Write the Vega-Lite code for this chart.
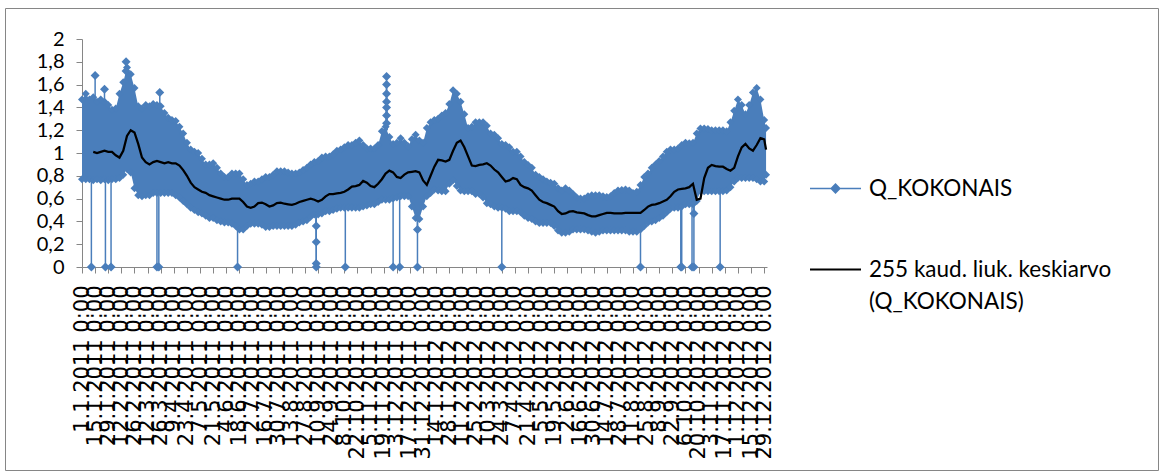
{
  "$schema": "https://vega.github.io/schema/vega-lite/v6.json",
  "width": 1153,
  "height": 462,
  "autosize": {"type": "none"},
  "padding": {"left": 5, "top": 8, "right": 5, "bottom": 2},
  "background": "white",
  "config": {
    "view": {"stroke": "#868686", "strokeWidth": 1},
    "font": "Lato",
    "style": {"guide-label": {"lineHeight": 32}}
  },
  "datasets": {
    "grid": [{"v": 0.2}, {"v": 0.4}, {"v": 0.6}, {"v": 0.8}, {"v": 1.0}, {"v": 1.2}, {"v": 1.4}, {"v": 1.6}, {"v": 1.8}, {"v": 2.0}],
    "band": [
      {"t": "2011/01/01", "hi": 1.47, "lo": 0.77},
      {"t": "2011/01/05", "hi": 1.52, "lo": 0.77},
      {"t": "2011/01/09", "hi": 1.47, "lo": 0.77},
      {"t": "2011/01/13", "hi": 1.49, "lo": 0.76, "ma": 1.01},
      {"t": "2011/01/17", "hi": 1.45, "lo": 0.77, "ma": 1.0},
      {"t": "2011/01/21", "hi": 1.47, "lo": 0.76, "ma": 1.01},
      {"t": "2011/01/25", "hi": 1.45, "lo": 0.77, "ma": 1.02},
      {"t": "2011/01/29", "hi": 1.42, "lo": 0.76, "ma": 1.01},
      {"t": "2011/02/02", "hi": 1.38, "lo": 0.77, "ma": 1.01},
      {"t": "2011/02/06", "hi": 1.39, "lo": 0.77, "ma": 0.98},
      {"t": "2011/02/10", "hi": 1.52, "lo": 0.78, "ma": 0.96},
      {"t": "2011/02/14", "hi": 1.62, "lo": 0.81, "ma": 1.02},
      {"t": "2011/02/18", "hi": 1.75, "lo": 0.86, "ma": 1.15},
      {"t": "2011/02/22", "hi": 1.69, "lo": 0.83, "ma": 1.2},
      {"t": "2011/02/26", "hi": 1.57, "lo": 0.69, "ma": 1.18},
      {"t": "2011/03/02", "hi": 1.41, "lo": 0.63, "ma": 1.08},
      {"t": "2011/03/06", "hi": 1.39, "lo": 0.62, "ma": 0.96},
      {"t": "2011/03/10", "hi": 1.42, "lo": 0.63, "ma": 0.92},
      {"t": "2011/03/14", "hi": 1.41, "lo": 0.63, "ma": 0.9},
      {"t": "2011/03/18", "hi": 1.43, "lo": 0.65, "ma": 0.92},
      {"t": "2011/03/22", "hi": 1.42, "lo": 0.65, "ma": 0.93},
      {"t": "2011/03/26", "hi": 1.41, "lo": 0.65, "ma": 0.92},
      {"t": "2011/03/30", "hi": 1.35, "lo": 0.65, "ma": 0.91},
      {"t": "2011/04/03", "hi": 1.31, "lo": 0.65, "ma": 0.92},
      {"t": "2011/04/07", "hi": 1.29, "lo": 0.65, "ma": 0.91},
      {"t": "2011/04/11", "hi": 1.28, "lo": 0.63, "ma": 0.91},
      {"t": "2011/04/15", "hi": 1.23, "lo": 0.61, "ma": 0.89},
      {"t": "2011/04/19", "hi": 1.17, "lo": 0.58, "ma": 0.85},
      {"t": "2011/04/23", "hi": 1.09, "lo": 0.55, "ma": 0.8},
      {"t": "2011/04/27", "hi": 1.03, "lo": 0.52, "ma": 0.74},
      {"t": "2011/05/01", "hi": 1.01, "lo": 0.5, "ma": 0.7},
      {"t": "2011/05/05", "hi": 1.0, "lo": 0.48, "ma": 0.68},
      {"t": "2011/05/09", "hi": 0.95, "lo": 0.47, "ma": 0.66},
      {"t": "2011/05/13", "hi": 0.9, "lo": 0.45, "ma": 0.65},
      {"t": "2011/05/17", "hi": 0.9, "lo": 0.43, "ma": 0.63},
      {"t": "2011/05/21", "hi": 0.91, "lo": 0.43, "ma": 0.62},
      {"t": "2011/05/25", "hi": 0.87, "lo": 0.41, "ma": 0.61},
      {"t": "2011/05/29", "hi": 0.82, "lo": 0.4, "ma": 0.6},
      {"t": "2011/06/02", "hi": 0.79, "lo": 0.39, "ma": 0.59},
      {"t": "2011/06/06", "hi": 0.79, "lo": 0.39, "ma": 0.59},
      {"t": "2011/06/10", "hi": 0.82, "lo": 0.38, "ma": 0.6},
      {"t": "2011/06/14", "hi": 0.82, "lo": 0.36, "ma": 0.6},
      {"t": "2011/06/18", "hi": 0.82, "lo": 0.33, "ma": 0.6},
      {"t": "2011/06/22", "hi": 0.77, "lo": 0.33, "ma": 0.57},
      {"t": "2011/06/26", "hi": 0.72, "lo": 0.36, "ma": 0.53},
      {"t": "2011/06/30", "hi": 0.73, "lo": 0.38, "ma": 0.52},
      {"t": "2011/07/04", "hi": 0.75, "lo": 0.38, "ma": 0.53},
      {"t": "2011/07/08", "hi": 0.75, "lo": 0.38, "ma": 0.56},
      {"t": "2011/07/12", "hi": 0.77, "lo": 0.37, "ma": 0.565},
      {"t": "2011/07/16", "hi": 0.79, "lo": 0.35, "ma": 0.55},
      {"t": "2011/07/20", "hi": 0.79, "lo": 0.35, "ma": 0.53},
      {"t": "2011/07/24", "hi": 0.81, "lo": 0.36, "ma": 0.54},
      {"t": "2011/07/28", "hi": 0.84, "lo": 0.36, "ma": 0.56},
      {"t": "2011/08/01", "hi": 0.84, "lo": 0.36, "ma": 0.565},
      {"t": "2011/08/05", "hi": 0.84, "lo": 0.36, "ma": 0.555},
      {"t": "2011/08/09", "hi": 0.83, "lo": 0.36, "ma": 0.55},
      {"t": "2011/08/13", "hi": 0.82, "lo": 0.36, "ma": 0.545},
      {"t": "2011/08/17", "hi": 0.82, "lo": 0.37, "ma": 0.555},
      {"t": "2011/08/21", "hi": 0.83, "lo": 0.39, "ma": 0.57},
      {"t": "2011/08/25", "hi": 0.85, "lo": 0.4, "ma": 0.58},
      {"t": "2011/08/29", "hi": 0.87, "lo": 0.41, "ma": 0.59},
      {"t": "2011/09/02", "hi": 0.9, "lo": 0.44, "ma": 0.6},
      {"t": "2011/09/06", "hi": 0.92, "lo": 0.46, "ma": 0.59},
      {"t": "2011/09/10", "hi": 0.93, "lo": 0.46, "ma": 0.575},
      {"t": "2011/09/14", "hi": 0.96, "lo": 0.47, "ma": 0.59},
      {"t": "2011/09/18", "hi": 0.97, "lo": 0.49, "ma": 0.62},
      {"t": "2011/09/22", "hi": 0.97, "lo": 0.49, "ma": 0.64},
      {"t": "2011/09/26", "hi": 0.99, "lo": 0.5, "ma": 0.64},
      {"t": "2011/09/30", "hi": 1.02, "lo": 0.51, "ma": 0.645},
      {"t": "2011/10/04", "hi": 1.03, "lo": 0.52, "ma": 0.65},
      {"t": "2011/10/08", "hi": 1.05, "lo": 0.52, "ma": 0.66},
      {"t": "2011/10/12", "hi": 1.07, "lo": 0.52, "ma": 0.68},
      {"t": "2011/10/16", "hi": 1.07, "lo": 0.52, "ma": 0.705},
      {"t": "2011/10/20", "hi": 1.09, "lo": 0.52, "ma": 0.71},
      {"t": "2011/10/24", "hi": 1.11, "lo": 0.52, "ma": 0.72},
      {"t": "2011/10/28", "hi": 1.07, "lo": 0.53, "ma": 0.755},
      {"t": "2011/11/01", "hi": 1.04, "lo": 0.54, "ma": 0.74},
      {"t": "2011/11/05", "hi": 1.04, "lo": 0.55, "ma": 0.71},
      {"t": "2011/11/09", "hi": 1.04, "lo": 0.55, "ma": 0.7},
      {"t": "2011/11/13", "hi": 1.07, "lo": 0.57, "ma": 0.73},
      {"t": "2011/11/17", "hi": 1.19, "lo": 0.59, "ma": 0.77},
      {"t": "2011/11/21", "hi": 1.23, "lo": 0.59, "ma": 0.82},
      {"t": "2011/11/25", "hi": 1.14, "lo": 0.59, "ma": 0.845},
      {"t": "2011/11/29", "hi": 1.08, "lo": 0.6, "ma": 0.83},
      {"t": "2011/12/03", "hi": 1.09, "lo": 0.61, "ma": 0.79},
      {"t": "2011/12/07", "hi": 1.13, "lo": 0.62, "ma": 0.78},
      {"t": "2011/12/11", "hi": 1.09, "lo": 0.62, "ma": 0.81},
      {"t": "2011/12/15", "hi": 1.06, "lo": 0.62, "ma": 0.83},
      {"t": "2011/12/19", "hi": 1.12, "lo": 0.53, "ma": 0.835},
      {"t": "2011/12/23", "hi": 1.16, "lo": 0.43, "ma": 0.84},
      {"t": "2011/12/27", "hi": 1.11, "lo": 0.42, "ma": 0.83},
      {"t": "2011/12/31", "hi": 1.09, "lo": 0.53, "ma": 0.76},
      {"t": "2012/01/04", "hi": 1.22, "lo": 0.62, "ma": 0.72},
      {"t": "2012/01/08", "hi": 1.27, "lo": 0.65, "ma": 0.8},
      {"t": "2012/01/12", "hi": 1.29, "lo": 0.68, "ma": 0.88},
      {"t": "2012/01/16", "hi": 1.3, "lo": 0.67, "ma": 0.94},
      {"t": "2012/01/20", "hi": 1.33, "lo": 0.665, "ma": 0.935},
      {"t": "2012/01/24", "hi": 1.35, "lo": 0.665, "ma": 0.925},
      {"t": "2012/01/28", "hi": 1.43, "lo": 0.73, "ma": 0.94},
      {"t": "2012/02/01", "hi": 1.55, "lo": 0.76, "ma": 1.02},
      {"t": "2012/02/05", "hi": 1.52, "lo": 0.71, "ma": 1.09},
      {"t": "2012/02/09", "hi": 1.45, "lo": 0.67, "ma": 1.11},
      {"t": "2012/02/13", "hi": 1.34, "lo": 0.665, "ma": 1.05},
      {"t": "2012/02/17", "hi": 1.22, "lo": 0.665, "ma": 0.97},
      {"t": "2012/02/21", "hi": 1.23, "lo": 0.665, "ma": 0.89},
      {"t": "2012/02/25", "hi": 1.27, "lo": 0.64, "ma": 0.885},
      {"t": "2012/02/29", "hi": 1.27, "lo": 0.64, "ma": 0.895},
      {"t": "2012/03/04", "hi": 1.27, "lo": 0.61, "ma": 0.9},
      {"t": "2012/03/08", "hi": 1.24, "lo": 0.56, "ma": 0.91},
      {"t": "2012/03/12", "hi": 1.17, "lo": 0.55, "ma": 0.89},
      {"t": "2012/03/16", "hi": 1.16, "lo": 0.53, "ma": 0.855},
      {"t": "2012/03/20", "hi": 1.13, "lo": 0.52, "ma": 0.83},
      {"t": "2012/03/24", "hi": 1.08, "lo": 0.52, "ma": 0.79},
      {"t": "2012/03/28", "hi": 1.07, "lo": 0.51, "ma": 0.75},
      {"t": "2012/04/01", "hi": 1.05, "lo": 0.49, "ma": 0.76},
      {"t": "2012/04/05", "hi": 1.01, "lo": 0.49, "ma": 0.78},
      {"t": "2012/04/09", "hi": 1.01, "lo": 0.49, "ma": 0.77},
      {"t": "2012/04/13", "hi": 0.97, "lo": 0.48, "ma": 0.72},
      {"t": "2012/04/17", "hi": 0.92, "lo": 0.45, "ma": 0.7},
      {"t": "2012/04/21", "hi": 0.895, "lo": 0.43, "ma": 0.69},
      {"t": "2012/04/25", "hi": 0.87, "lo": 0.42, "ma": 0.67},
      {"t": "2012/04/29", "hi": 0.81, "lo": 0.4, "ma": 0.63},
      {"t": "2012/05/03", "hi": 0.79, "lo": 0.385, "ma": 0.59},
      {"t": "2012/05/07", "hi": 0.77, "lo": 0.385, "ma": 0.57},
      {"t": "2012/05/11", "hi": 0.75, "lo": 0.385, "ma": 0.56},
      {"t": "2012/05/15", "hi": 0.74, "lo": 0.385, "ma": 0.545},
      {"t": "2012/05/19", "hi": 0.73, "lo": 0.36, "ma": 0.53},
      {"t": "2012/05/23", "hi": 0.69, "lo": 0.32, "ma": 0.49},
      {"t": "2012/05/27", "hi": 0.67, "lo": 0.3, "ma": 0.465},
      {"t": "2012/05/31", "hi": 0.69, "lo": 0.3, "ma": 0.47},
      {"t": "2012/06/04", "hi": 0.67, "lo": 0.31, "ma": 0.485},
      {"t": "2012/06/08", "hi": 0.64, "lo": 0.33, "ma": 0.49},
      {"t": "2012/06/12", "hi": 0.61, "lo": 0.33, "ma": 0.48},
      {"t": "2012/06/16", "hi": 0.6, "lo": 0.33, "ma": 0.475},
      {"t": "2012/06/20", "hi": 0.6, "lo": 0.33, "ma": 0.47},
      {"t": "2012/06/24", "hi": 0.62, "lo": 0.32, "ma": 0.455},
      {"t": "2012/06/28", "hi": 0.63, "lo": 0.31, "ma": 0.445},
      {"t": "2012/07/02", "hi": 0.63, "lo": 0.3, "ma": 0.445},
      {"t": "2012/07/06", "hi": 0.63, "lo": 0.31, "ma": 0.455},
      {"t": "2012/07/10", "hi": 0.62, "lo": 0.32, "ma": 0.465},
      {"t": "2012/07/14", "hi": 0.615, "lo": 0.32, "ma": 0.475},
      {"t": "2012/07/18", "hi": 0.62, "lo": 0.32, "ma": 0.475},
      {"t": "2012/07/22", "hi": 0.65, "lo": 0.32, "ma": 0.47},
      {"t": "2012/07/26", "hi": 0.67, "lo": 0.32, "ma": 0.47},
      {"t": "2012/07/30", "hi": 0.675, "lo": 0.32, "ma": 0.47},
      {"t": "2012/08/03", "hi": 0.68, "lo": 0.32, "ma": 0.475},
      {"t": "2012/08/07", "hi": 0.67, "lo": 0.31, "ma": 0.475},
      {"t": "2012/08/11", "hi": 0.65, "lo": 0.31, "ma": 0.475},
      {"t": "2012/08/15", "hi": 0.66, "lo": 0.31, "ma": 0.475},
      {"t": "2012/08/19", "hi": 0.72, "lo": 0.33, "ma": 0.475},
      {"t": "2012/08/23", "hi": 0.79, "lo": 0.36, "ma": 0.5},
      {"t": "2012/08/27", "hi": 0.82, "lo": 0.39, "ma": 0.53},
      {"t": "2012/08/31", "hi": 0.87, "lo": 0.4, "ma": 0.545},
      {"t": "2012/09/04", "hi": 0.9, "lo": 0.41, "ma": 0.55},
      {"t": "2012/09/08", "hi": 0.93, "lo": 0.43, "ma": 0.56},
      {"t": "2012/09/12", "hi": 0.97, "lo": 0.45, "ma": 0.575},
      {"t": "2012/09/16", "hi": 1.01, "lo": 0.48, "ma": 0.59},
      {"t": "2012/09/20", "hi": 1.03, "lo": 0.51, "ma": 0.62},
      {"t": "2012/09/24", "hi": 1.03, "lo": 0.52, "ma": 0.66},
      {"t": "2012/09/28", "hi": 1.04, "lo": 0.52, "ma": 0.68},
      {"t": "2012/10/02", "hi": 1.07, "lo": 0.53, "ma": 0.685},
      {"t": "2012/10/06", "hi": 1.09, "lo": 0.55, "ma": 0.69},
      {"t": "2012/10/10", "hi": 1.085, "lo": 0.55, "ma": 0.7},
      {"t": "2012/10/14", "hi": 1.09, "lo": 0.55, "ma": 0.73},
      {"t": "2012/10/18", "hi": 1.17, "lo": 0.58, "ma": 0.59},
      {"t": "2012/10/22", "hi": 1.215, "lo": 0.665, "ma": 0.6},
      {"t": "2012/10/26", "hi": 1.215, "lo": 0.665, "ma": 0.78},
      {"t": "2012/10/30", "hi": 1.21, "lo": 0.665, "ma": 0.87},
      {"t": "2012/11/03", "hi": 1.2, "lo": 0.665, "ma": 0.895},
      {"t": "2012/11/07", "hi": 1.2, "lo": 0.665, "ma": 0.885},
      {"t": "2012/11/11", "hi": 1.2, "lo": 0.665, "ma": 0.88},
      {"t": "2012/11/15", "hi": 1.2, "lo": 0.665, "ma": 0.88},
      {"t": "2012/11/19", "hi": 1.19, "lo": 0.67, "ma": 0.86},
      {"t": "2012/11/23", "hi": 1.27, "lo": 0.7, "ma": 0.845},
      {"t": "2012/11/27", "hi": 1.37, "lo": 0.75, "ma": 0.87},
      {"t": "2012/12/01", "hi": 1.47, "lo": 0.78, "ma": 0.97},
      {"t": "2012/12/05", "hi": 1.42, "lo": 0.78, "ma": 1.05},
      {"t": "2012/12/09", "hi": 1.34, "lo": 0.78, "ma": 1.08},
      {"t": "2012/12/13", "hi": 1.42, "lo": 0.78, "ma": 1.04},
      {"t": "2012/12/17", "hi": 1.53, "lo": 0.78, "ma": 1.02},
      {"t": "2012/12/21", "hi": 1.57, "lo": 0.77, "ma": 1.07},
      {"t": "2012/12/25", "hi": 1.47, "lo": 0.75, "ma": 1.13},
      {"t": "2012/12/29", "hi": 1.29, "lo": 0.75, "ma": 1.12},
      {"t": "2012/12/31", "hi": 1.22, "lo": 0.81, "ma": 1.03}
    ],
    "extra": [
      {"t": "2011/01/11", "base": 0.78, "q": 0},
      {"t": "2011/01/15", "base": 1.45, "q": 1.68},
      {"t": "2011/01/25", "base": 1.45, "q": 1.56},
      {"t": "2011/01/26", "base": 0.78, "q": 0},
      {"t": "2011/02/01", "base": 0.78, "q": 0},
      {"t": "2011/02/17", "base": 1.7, "q": 1.8},
      {"t": "2011/02/17", "base": 1.7, "q": 1.72},
      {"t": "2011/03/22", "base": 0.65, "q": 0},
      {"t": "2011/03/24", "base": 0.65, "q": 0},
      {"t": "2011/03/25", "base": 1.41, "q": 1.53},
      {"t": "2011/06/16", "base": 0.35, "q": 0},
      {"t": "2011/09/08", "base": 0.46, "q": 0},
      {"t": "2011/09/08", "base": 0.46, "q": 0.03},
      {"t": "2011/09/08", "base": 0.46, "q": 0.22},
      {"t": "2011/09/08", "base": 0.46, "q": 0.36},
      {"t": "2011/10/09", "base": 0.52, "q": 0},
      {"t": "2011/11/22", "base": 1.2, "q": 1.26},
      {"t": "2011/11/22", "base": 1.2, "q": 1.33},
      {"t": "2011/11/22", "base": 1.2, "q": 1.4},
      {"t": "2011/11/22", "base": 1.2, "q": 1.45},
      {"t": "2011/11/22", "base": 1.2, "q": 1.52},
      {"t": "2011/11/22", "base": 1.2, "q": 1.6},
      {"t": "2011/11/22", "base": 1.2, "q": 1.67},
      {"t": "2011/11/29", "base": 0.6, "q": 0},
      {"t": "2011/12/06", "base": 0.62, "q": 0},
      {"t": "2011/12/25", "base": 0.43, "q": 0},
      {"t": "2011/12/25", "base": 0.43, "q": 0.33},
      {"t": "2012/03/24", "base": 0.52, "q": 0},
      {"t": "2012/08/19", "base": 0.32, "q": 0},
      {"t": "2012/10/01", "base": 0.55, "q": 0},
      {"t": "2012/10/02", "base": 0.55, "q": 0},
      {"t": "2012/10/13", "base": 0.55, "q": 0},
      {"t": "2012/10/15", "base": 0.55, "q": 0},
      {"t": "2012/10/15", "base": 0.55, "q": 0.47},
      {"t": "2012/11/12", "base": 0.665, "q": 0}
    ]
  },
  "encoding": {
    "x": {
      "field": "t",
      "type": "temporal",
      "title": null,
      "scale": {
        "domain": [{"year": 2011, "month": 1, "date": 1}, {"year": 2013, "month": 1, "date": 1}],
        "range": [77, 762],
        "nice": false
      },
      "axis": {
        "values": [
          {"year": 2011, "month": 1, "date": 1}, {"year": 2011, "month": 1, "date": 15}, {"year": 2011, "month": 1, "date": 29},
          {"year": 2011, "month": 2, "date": 12}, {"year": 2011, "month": 2, "date": 26}, {"year": 2011, "month": 3, "date": 12},
          {"year": 2011, "month": 3, "date": 26}, {"year": 2011, "month": 4, "date": 9}, {"year": 2011, "month": 4, "date": 23},
          {"year": 2011, "month": 5, "date": 7}, {"year": 2011, "month": 5, "date": 21}, {"year": 2011, "month": 6, "date": 4},
          {"year": 2011, "month": 6, "date": 18}, {"year": 2011, "month": 7, "date": 2}, {"year": 2011, "month": 7, "date": 16},
          {"year": 2011, "month": 7, "date": 30}, {"year": 2011, "month": 8, "date": 13}, {"year": 2011, "month": 8, "date": 27},
          {"year": 2011, "month": 9, "date": 10}, {"year": 2011, "month": 9, "date": 24}, {"year": 2011, "month": 10, "date": 8},
          {"year": 2011, "month": 10, "date": 22}, {"year": 2011, "month": 11, "date": 5}, {"year": 2011, "month": 11, "date": 19},
          {"year": 2011, "month": 12, "date": 3}, {"year": 2011, "month": 12, "date": 17}, {"year": 2011, "month": 12, "date": 31},
          {"year": 2012, "month": 1, "date": 14}, {"year": 2012, "month": 1, "date": 28}, {"year": 2012, "month": 2, "date": 11},
          {"year": 2012, "month": 2, "date": 25}, {"year": 2012, "month": 3, "date": 10}, {"year": 2012, "month": 3, "date": 24},
          {"year": 2012, "month": 4, "date": 7}, {"year": 2012, "month": 4, "date": 21}, {"year": 2012, "month": 5, "date": 5},
          {"year": 2012, "month": 5, "date": 19}, {"year": 2012, "month": 6, "date": 2}, {"year": 2012, "month": 6, "date": 16},
          {"year": 2012, "month": 6, "date": 30}, {"year": 2012, "month": 7, "date": 14}, {"year": 2012, "month": 7, "date": 28},
          {"year": 2012, "month": 8, "date": 11}, {"year": 2012, "month": 8, "date": 25}, {"year": 2012, "month": 9, "date": 8},
          {"year": 2012, "month": 9, "date": 22}, {"year": 2012, "month": 10, "date": 6}, {"year": 2012, "month": 10, "date": 20},
          {"year": 2012, "month": 11, "date": 3}, {"year": 2012, "month": 11, "date": 17}, {"year": 2012, "month": 12, "date": 1},
          {"year": 2012, "month": 12, "date": 15}, {"year": 2012, "month": 12, "date": 29}
        ],
        "format": "%-d.%-m.%Y %-H:%M",
        "labelAngle": 270,
        "labelOverlap": false,
        "labelFlush": false,
        "labelBound": false,
        "labelLimit": 0,
        "offset": -203,
        "grid": false,
        "domainColor": "#868686",
        "tickColor": "#868686",
        "tickSize": 6,
        "labelPadding": 12,
        "labelFont": "DejaVu Sans",
        "labelFontSize": 21,
        "labelColor": "black"
      }
    }
  },
  "layer": [
    {
      "data": {"name": "grid"},
      "mark": {"type": "rule", "color": "#868686", "strokeWidth": 1},
      "encoding": {
        "x": {"datum": {"year": 2011, "month": 1, "date": 1}, "type": "temporal"},
        "x2": {"datum": {"year": 2013, "month": 1, "date": 1}},
        "y": {"field": "v", "type": "quantitative", "title": null, "scale": {"domain": [0, 2], "range": [259, 31], "nice": false, "zero": false}}
      }
    },
    {
      "data": {"name": "band"},
      "mark": {"type": "area", "opacity": 1},
      "encoding": {
        "y": {
          "field": "hi",
          "type": "quantitative",
          "title": null,
          "scale": {"domain": [0, 2], "range": [259, 31], "nice": false, "zero": false},
          "axis": {
            "values": [0, 0.2, 0.4, 0.6, 0.8, 1, 1.2, 1.4, 1.6, 1.8, 2],
            "labelExpr": "replace(format(datum.value, '.1~f'), '.', ',')",
            "offset": -77,
            "grid": false,
            "domainColor": "#868686",
            "tickColor": "#868686",
            "tickSize": 6,
            "labelPadding": 12,
            "labelFont": "Lato",
            "labelFontSize": 20,
            "labelColor": "black"
          }
        },
        "y2": {"field": "lo"},
        "color": {
          "datum": "Q_KOKONAIS",
          "type": "nominal",
          "scale": {"range": ["#4a7ebb"]},
          "legend": {
            "orient": "none",
            "legendX": 804,
            "legendY": 154,
            "title": null,
            "padding": 0,
            "symbolSize": 2601,
            "symbolType": "M-1,0H1M-0.17,0L0,-0.17L0.17,0L0,0.17Z",
            "symbolStrokeColor": "#4a7ebb",
            "symbolStrokeWidth": 1.5,
            "labelFont": "Lato",
            "labelFontSize": 22.5,
            "labelColor": "black",
            "labelOffset": 7,
            "labelLimit": 0,
            "encode": {
              "symbols": {
                "stroke": {"value": "#4a7ebb"},
                "strokeWidth": {"value": 1.5}
              }
            }
          }
        }
      }
    },
    {
      "data": {"name": "band"},
      "mark": {"type": "point", "shape": "diamond", "filled": true, "size": 64, "opacity": 1, "color": "#4a7ebb"},
      "encoding": {
        "y": {"field": "hi", "type": "quantitative", "title": null, "scale": {"domain": [0, 2], "range": [259, 31], "nice": false, "zero": false}}
      }
    },
    {
      "data": {"name": "band"},
      "mark": {"type": "point", "shape": "diamond", "filled": true, "size": 64, "opacity": 1, "color": "#4a7ebb"},
      "encoding": {
        "y": {"field": "lo", "type": "quantitative", "title": null, "scale": {"domain": [0, 2], "range": [259, 31], "nice": false, "zero": false}}
      }
    },
    {
      "data": {"name": "extra"},
      "mark": {"type": "rule", "color": "#4a7ebb", "strokeWidth": 1.5},
      "encoding": {
        "y": {"field": "base", "type": "quantitative", "title": null, "scale": {"domain": [0, 2], "range": [259, 31], "nice": false, "zero": false}},
        "y2": {"field": "q"}
      }
    },
    {
      "data": {"name": "extra"},
      "mark": {"type": "point", "shape": "diamond", "filled": true, "size": 81, "opacity": 1, "color": "#4a7ebb"},
      "encoding": {
        "y": {"field": "q", "type": "quantitative", "title": null, "scale": {"domain": [0, 2], "range": [259, 31], "nice": false, "zero": false}}
      }
    },
    {
      "data": {"name": "band"},
      "mark": {"type": "line", "strokeWidth": 2.25},
      "encoding": {
        "y": {"field": "ma", "type": "quantitative", "title": null, "scale": {"domain": [0, 2], "range": [259, 31], "nice": false, "zero": false}},
        "stroke": {
          "datum": "255 kaud. liuk. keskiarvo (Q_KOKONAIS)",
          "type": "nominal",
          "scale": {"range": ["#000000"]},
          "legend": {
            "orient": "none",
            "legendX": 804,
            "legendY": 235,
            "title": null,
            "padding": 0,
            "symbolSize": 2601,
            "symbolType": "stroke",
            "symbolStrokeWidth": 2,
            "labelFont": "Lato",
            "labelFontSize": 22.5,
            "labelColor": "black",
            "labelOffset": 7,
            "labelLimit": 0,
            "labelExpr": "['255 kaud. liuk. keskiarvo', '(Q_KOKONAIS)']"
          }
        }
      }
    }
  ]
}
